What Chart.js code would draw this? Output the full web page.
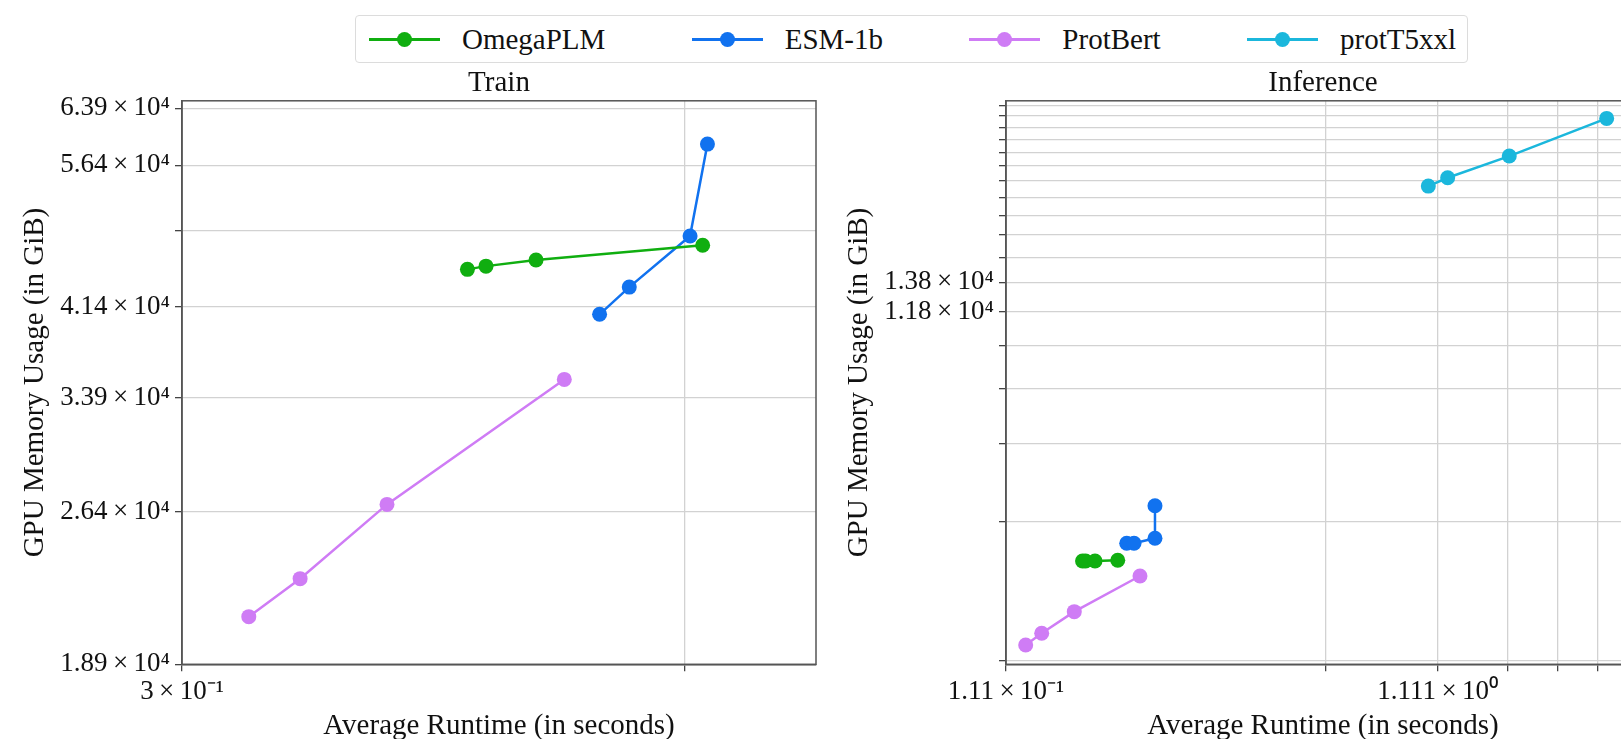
<!DOCTYPE html>
<html>
<head>
<meta charset="utf-8">
<script src="https://cdn.jsdelivr.net/npm/chart.js@4.4.0/dist/chart.umd.min.js"></script>
<style>
  html, body { margin: 0; padding: 0; background: #fff; overflow: hidden; }
  #page { position: relative; width: 1621px; height: 739px; overflow: hidden; }
  #train-wrap { position: absolute; left: 0; top: 0; width: 830px; height: 744px; }
  #infer-wrap { position: absolute; left: 830px; top: 0; width: 824px; height: 744px; }
  #legend {
    position: absolute; left: 355px; top: 15px; width: 1113px; height: 48px;
    box-sizing: border-box; border: 1px solid #dcdcdc; border-radius: 4px; background: #fff;
    display: flex; align-items: center; justify-content: space-between;
    padding: 0 11px 0 13px; z-index: 2;
    font-family: 'Liberation Serif', 'Times New Roman', serif; font-size: 29px; color: #111;
  }
  .item { display: flex; align-items: center; }
  .mark { position: relative; width: 71px; height: 3px; }
  .mark i { position: absolute; left: 28px; top: -6px; width: 15px; height: 15px; border-radius: 50%; }
  .item span { margin-left: 22px; }
</style>
</head>
<body>
<div id="page">
  <div id="legend"></div>
  <div id="train-wrap"><canvas id="train" width="830" height="744"></canvas></div>
  <div id="infer-wrap"><canvas id="infer" width="824" height="744"></canvas></div>
</div>
<script>
// series names and colours
const models = ["OmegaPLM", "ESM-1b", "ProtBert", "protT5xxl"];
const colors = ["#10ae10", "#1172ef", "#cf7cf5", "#1bb7dc"];

// Train: average runtime (s) and GPU memory
const trainOmegaX = [0.594, 0.621, 0.700, 1.043];
const trainOmegaY = [44900, 45220, 45830, 47330];
const trainEsmX = [0.815, 0.875, 1.012, 1.055];
const trainEsmY = [40690, 43190, 48300, 59080];
const trainBertX = [0.352, 0.398, 0.490, 0.749];
const trainBertY = [20980, 22800, 26830, 35280];

// Inference
const inferOmegaX = [0.1670, 0.1697, 0.1785, 0.2015];
const inferOmegaY = [3082, 3082, 3082, 3094];
const inferEsmX = [0.2114, 0.2198, 0.2458, 0.2458];
const inferEsmY = [3390, 3390, 3483, 4150];
const inferBertX = [0.1233, 0.1343, 0.1598, 0.2269];
const inferBertY = [1962, 2089, 2347, 2843];
const inferT5X = [1.057, 1.172, 1.628, 2.738];
const inferT5Y = [23170, 24230, 27230, 33350];

// tick values and labels
const trainYTicks = [18900, 26400, 33900, 41400, 48900, 56400, 63900];
const trainYLabels = ["1.89\u2009×\u200910⁴", "2.64\u2009×\u200910⁴", "3.39\u2009×\u200910⁴", "4.14\u2009×\u200910⁴", "", "5.64\u2009×\u200910⁴", "6.39\u2009×\u200910⁴"];
const trainXTicks = [0.3, 1.0];
const trainXLabels = ["3\u2009×\u200910⁻¹", ""];
const inferYTicks = [1800, 3800, 5800, 7800, 9800, 11800, 13800, 15800, 17800, 19800, 21800, 23800, 25800, 27800, 29800, 31800, 33800, 35800];
const inferYLabels = ["", "", "", "", "", "1.18\u2009×\u200910⁴", "1.38\u2009×\u200910⁴", "", "", "", "", "", "", "", "", "", "", ""];
const inferXTicks = [0.111, 0.611, 1.111, 1.611, 2.111, 2.611, 3.111];
const inferXLabels = ["1.11\u2009×\u200910⁻¹", "", "1.111\u2009×\u200910⁰", "", "", "", ""];

const FONT = "'Liberation Serif', 'Times New Roman', serif";
const H = 744; // canvas height (bottom is cut by the page)

// legend
const legendEl = document.getElementById("legend");
models.forEach((name, i) => {
  const item = document.createElement("div");
  item.className = "item";
  item.innerHTML = `<div class="mark" style="background:${colors[i]}"><i style="background:${colors[i]}"></i></div><span>${name}</span>`;
  legendEl.appendChild(item);
});

const zip = (xs, ys) => xs.map((x, i) => ({ x: x, y: ys[i] }));
const series = (i, xs, ys) => ({
  label: models[i],
  data: zip(xs, ys),
  borderColor: colors[i],
  backgroundColor: colors[i],
  borderWidth: 2.5,
  pointRadius: 7.5,
  pointHoverRadius: 7.5,
  pointBorderWidth: 0,
  tension: 0,
});

const frame = {
  id: "frame",
  afterDatasetsDraw(chart) {
    const { ctx, chartArea: a } = chart;
    ctx.save();
    ctx.strokeStyle = "#555";
    ctx.lineWidth = 1.5;
    ctx.strokeRect(a.left, a.top, a.right - a.left, a.bottom - a.top);
    ctx.restore();
  },
};

function makeChart(id, title, datasets, opt) {
  return new Chart(document.getElementById(id), {
    type: "line",
    data: { datasets: datasets },
    plugins: [frame],
    options: {
      responsive: false,
      animation: false,
      layout: { padding: { top: 66, left: 0, right: 14, bottom: 0 } },
      plugins: {
        legend: { display: false },
        tooltip: { enabled: false },
        title: {
          display: true,
          text: title,
          fullSize: false,
          color: "#111",
          font: { family: FONT, size: 29, weight: "normal" },
          padding: { top: 0, bottom: 0 },
        },
      },
      scales: {
        x: {
          type: "logarithmic",
          min: opt.xMin,
          max: opt.xMax,
          afterFit: (s) => { s.height = H - 664.3; },
          afterBuildTicks: (s) => { s.ticks = opt.xTicks.map((v) => ({ value: v })); },
          ticks: {
            autoSkip: false,
            maxRotation: 0,
            minRotation: 0,
            padding: 4,
            color: "#111",
            font: { family: FONT, size: 27 },
            callback: (v, i) => opt.xLabels[i],
          },
          grid: { color: "#d2d2d2", lineWidth: 1.3, tickColor: "#444", tickLength: 7 },
          border: { display: true, color: "#555", width: 1.5 },
          title: {
            display: true,
            text: "Average Runtime (in seconds)",
            color: "#111",
            font: { family: FONT, size: 29 },
            padding: { top: 0, bottom: 0 },
          },
        },
        y: {
          type: "logarithmic",
          min: opt.yMin,
          max: opt.yMax,
          afterFit: (s) => { s.width = opt.yWidth; },
          afterBuildTicks: (s) => { s.ticks = opt.yTicks.map((v) => ({ value: v })); },
          ticks: {
            autoSkip: false,
            padding: 5,
            color: "#111",
            font: { family: FONT, size: 27 },
            callback: (v, i) => opt.yLabels[i],
          },
          grid: { color: "#d2d2d2", lineWidth: 1.3, tickColor: "#444", tickLength: 7 },
          border: { display: true, color: "#555", width: 1.5 },
          title: {
            display: true,
            text: "GPU Memory Usage (in GiB)",
            color: "#111",
            font: { family: FONT, size: 29 },
            padding: { top: opt.yTitlePad, bottom: 0 },
          },
        },
      },
    },
  });
}

makeChart("train", "Train", [
  series(0, trainOmegaX, trainOmegaY),
  series(1, trainEsmX, trainEsmY),
  series(2, trainBertX, trainBertY),
], {
  xMin: 0.3, xMax: 1.368, yMin: 18900, yMax: 64960,
  xTicks: trainXTicks, xLabels: trainXLabels,
  yTicks: trainYTicks, yLabels: trainYLabels,
  yWidth: 182, yTitlePad: 17.6,
});

makeChart("infer", "Inference", [
  series(0, inferOmegaX, inferOmegaY),
  series(1, inferEsmX, inferEsmY),
  series(2, inferBertX, inferBertY),
  series(3, inferT5X, inferT5Y),
], {
  xMin: 0.111, xMax: 3.271, yMin: 1768, yMax: 36660,
  xTicks: inferXTicks, xLabels: inferXLabels,
  yTicks: inferYTicks, yLabels: inferYLabels,
  yWidth: 176, yTitlePad: 11.6,
});
</script>
</body>
</html>
